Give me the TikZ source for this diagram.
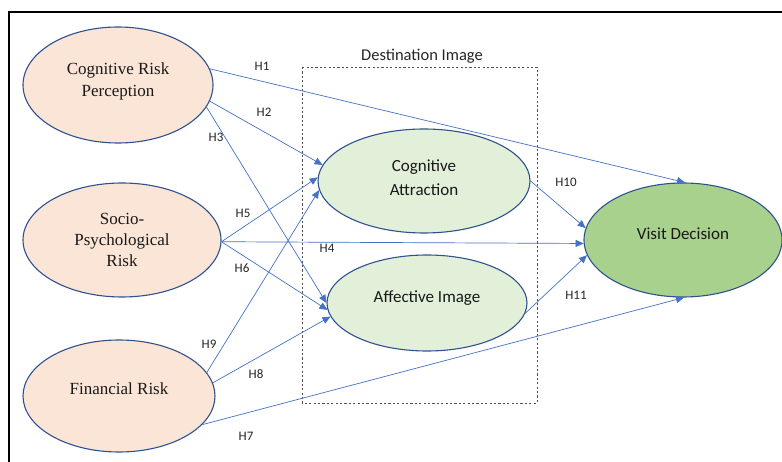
\documentclass[tikz,border=0pt]{standalone}
\usepackage{fontspec}
\setmainfont{Liberation Serif}
\newfontfamily\calib{Carlito}
\usetikzlibrary{shapes.geometric,arrows.meta}
\definecolor{linkblue}{RGB}{68,114,196}
\definecolor{edgeblue}{RGB}{47,82,143}
\definecolor{peach}{RGB}{251,229,214}
\definecolor{lgreen}{RGB}{226,240,217}
\definecolor{dgreen}{RGB}{169,209,142}
\definecolor{boxgray}{RGB}{80,80,80}
\begin{document}
\begin{tikzpicture}[x=1pt,y=-1pt,
  construct/.style={ellipse, draw=edgeblue, line width=1.1pt, inner sep=0pt},
  risktext/.style={align=center, inner sep=0pt, text=black!90, font=\fontsize{17}{22}\selectfont},
  imgtext/.style={align=center, inner sep=0pt, text=black!90, font=\calib\fontsize{17}{24}\selectfont},
  link/.style={draw=linkblue, line width=0.7pt, -{Triangle[length=8pt,width=7pt]}},
  hlab/.style={font=\calib\fontsize{13}{15}\selectfont, inner sep=0pt, text=black!85},
  dbox/.style={draw=boxgray, line width=0.8pt, dash pattern=on 2.2pt off 2.2pt}]
\useasboundingbox (0,0) rectangle (782,462);
\fill[white] (0,0) rectangle (782,462);
\draw[line width=1.2pt] (9,462) -- (9,12) -- (782,12);

% dashed group box
\draw[dbox] (302,67) rectangle (537,403);
\node[font=\calib\fontsize{16.5}{19}\selectfont, inner sep=0pt, text=black!85] (dlabel) at (422,56) {Destination Image};

% constructs
\node[construct, fill=peach, minimum width=190pt, minimum height=116pt] (crp) at (118,85) {};
\node[construct, fill=peach, minimum width=198pt, minimum height=114pt] (spr) at (122,240) {};
\node[construct, fill=peach, minimum width=192pt, minimum height=112pt] (fr) at (119,396) {};
\node[construct, fill=lgreen, minimum width=212pt, minimum height=104pt] (ca) at (424,181) {};
\node[construct, fill=lgreen, minimum width=200pt, minimum height=96pt] (ai) at (427,303) {};
\node[construct, fill=dgreen, minimum width=198pt, minimum height=114pt] (vd) at (683,240) {};

\node[risktext] (crpt) at ([yshift=4pt]crp.center) {Cognitive Risk\\Perception};
\node[risktext, font=\fontsize{17}{21}\selectfont] (sprt) at (spr.center) {Socio-\\Psychological\\Risk};
\node[risktext] (frt) at ([yshift=7pt]fr.center) {Financial Risk};
\node[imgtext] (cat) at ([yshift=3pt]ca.center) {Cognitive\\Attraction};
\node[imgtext] (ait) at ([yshift=5pt]ai.center) {Affective Image};
\node[imgtext] (vdt) at ([yshift=6pt]vd.center) {Visit Decision};

% connectors
\draw[link] (crp.10) -- (vd.88);
\draw[link] (crp.-10) -- (ca.171);
\draw[link] (crp.-14) -- (ai.180);
\draw[link] (spr.-1) -- (ca.178);
\draw[link] (spr.-1) -- (vd.182);
\draw[link] (spr.-1) -- (ai.184);
\draw[link] (fr.15) -- (ca.185);
\draw[link] (fr.8) -- (ai.188);
\draw[link] (fr.-19) -- (vd.271);
\draw[link] (ca.0) -- (vd.173);
\draw[link] (ai.-6) -- (vd.189);

% labels
\node[hlab] (h1) at (262,66) {H1};
\node[hlab] (h2) at (264,112) {H2};
\node[hlab] (h3) at (216,137) {H3};
\node[hlab] (h5) at (243,213) {H5};
\node[hlab] (h4) at (327,248) {H4};
\node[hlab] (h6) at (242,268) {H6};
\node[hlab] (h9) at (209,344) {H9};
\node[hlab] (h8) at (256,374) {H8};
\node[hlab] (h7) at (246,436) {H7};
\node[hlab] (h10) at (566,182) {H10};
\node[hlab] (h11) at (576,295) {H11};
\end{tikzpicture}
\end{document}
